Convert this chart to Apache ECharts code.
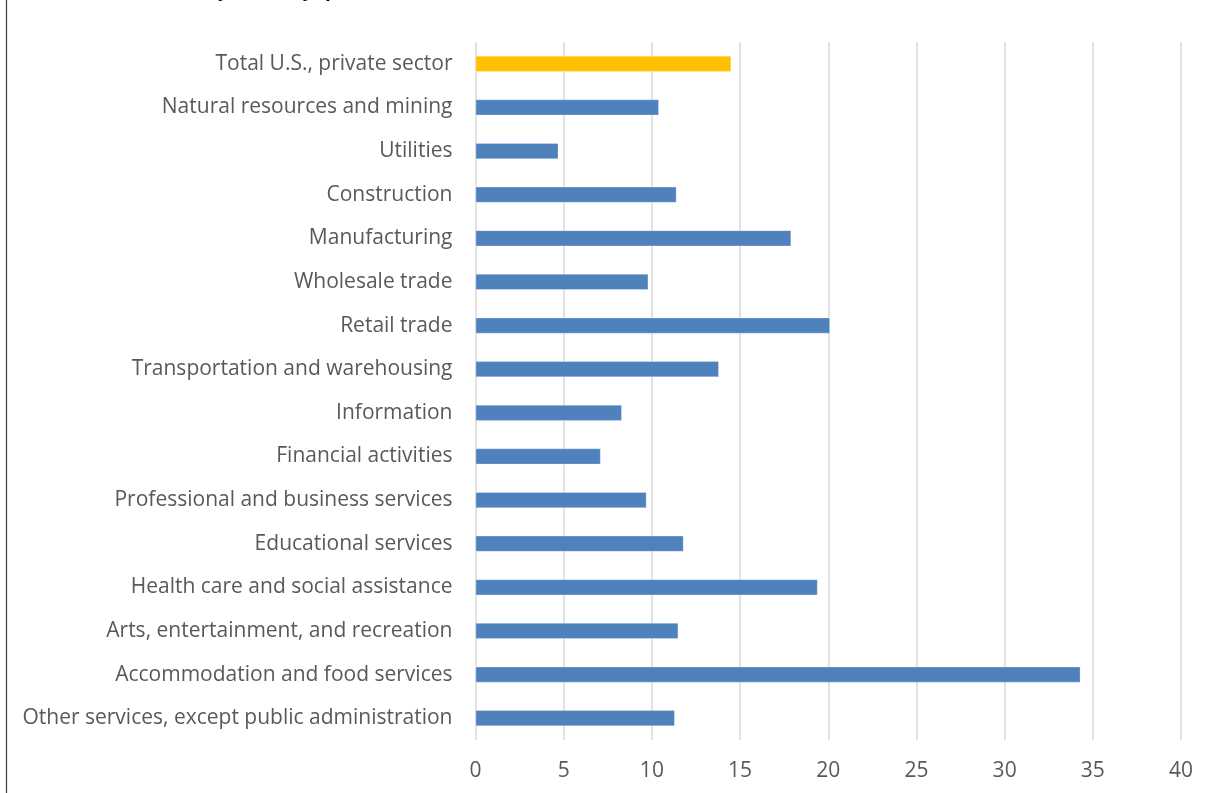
<!DOCTYPE html>
<html>
<head>
<meta charset="utf-8">
<script src="https://cdn.jsdelivr.net/npm/echarts@6/dist/echarts.min.js"></script>
<style>
  html, body { margin: 0; padding: 0; background: #ffffff; }
  #chart { width: 1212px; height: 793px; }
</style>
</head>
<body>
<div id="chart"></div>
<script>
// Industries, listed top to bottom
const industries = [
  'Total U.S., private sector',
  'Natural resources and mining',
  'Utilities',
  'Construction',
  'Manufacturing',
  'Wholesale trade',
  'Retail trade',
  'Transportation and warehousing',
  'Information',
  'Financial activities',
  'Professional and business services',
  'Educational services',
  'Health care and social assistance',
  'Arts, entertainment, and recreation',
  'Accommodation and food services',
  'Other services, except public administration'
];

// Percent values, same order as industries
const percentValues = [14.5, 10.4, 4.7, 11.4, 17.9, 9.8, 20.1, 13.8, 8.3, 7.1, 9.7, 11.8, 19.4, 11.5, 34.3, 11.3];

// Value-axis ticks
const axisTicks = [0, 5, 10, 15, 20, 25, 30, 35, 40];

const totalColor = '#ffc000';
const industryColor = '#4f81bd';
const fontFamily = '"Open Sans", "Noto Sans", sans-serif';

const chart = echarts.init(document.getElementById('chart'), null, { renderer: 'canvas' });

chart.setOption({
  animation: false,
  backgroundColor: '#ffffff',
  graphic: [
    {
      type: 'rect',
      silent: true,
      shape: { x: 6.5, y: -20, width: 1260, height: 850 },
      style: { fill: 'none', stroke: '#3a3a3a', lineWidth: 1.2 }
    },
    {
      type: 'text',
      silent: true,
      left: 40,
      top: -18.5,
      style: {
        text: 'Share of workers by industry (percent)',
        fontFamily: fontFamily,
        fontSize: 19,
        fontWeight: 'bold',
        fill: '#000000'
      }
    }
  ],
  grid: {
    left: 475.5,
    right: 31,
    top: 42,
    bottom: 53,
    containLabel: false
  },
  xAxis: {
    type: 'value',
    min: axisTicks[0],
    max: axisTicks[axisTicks.length - 1],
    interval: axisTicks[1] - axisTicks[0],
    axisLine: { show: false },
    axisTick: { show: false },
    splitLine: { show: true, lineStyle: { color: '#d9d9d9', width: 1.5 } },
    axisLabel: {
      color: '#595959',
      fontFamily: fontFamily,
      fontSize: 21,
      margin: 21
    }
  },
  yAxis: {
    type: 'category',
    data: industries,
    inverse: true,
    axisLine: { show: false },
    axisTick: { show: false },
    splitLine: { show: false },
    axisLabel: {
      color: '#595959',
      fontFamily: fontFamily,
      fontSize: 21,
      margin: 23
    }
  },
  series: [
    {
      type: 'bar',
      barWidth: 16,
      data: percentValues.map((v, i) => ({
        value: v,
        itemStyle: { color: i === 0 ? totalColor : industryColor }
      })),
      itemStyle: {
        borderColor: 'rgba(255,255,255,0.35)',
        borderWidth: 0.8
      }
    }
  ]
});
</script>
</body>
</html>
